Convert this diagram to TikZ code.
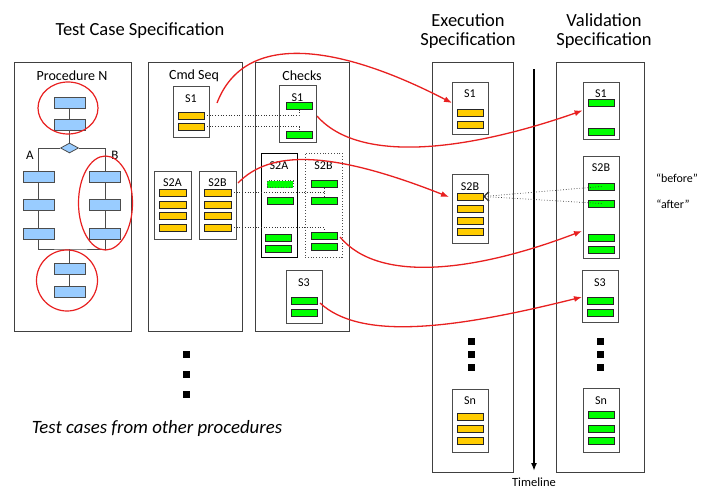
\documentclass[tikz,border=0pt]{standalone}
\usepackage{fontspec}
\setmainfont{Carlito}
\usetikzlibrary{arrows.meta,shapes.geometric}
\definecolor{barorange}{RGB}{255,204,0}
\definecolor{bargreen}{RGB}{0,255,0}
\definecolor{barblue}{RGB}{153,204,255}
\definecolor{linkred}{RGB}{232,32,32}

\begin{document}
\begin{tikzpicture}[x=1pt,y=-1pt,
  panel/.style={draw=black!75,line width=0.9pt,fill=white,inner sep=0pt},
  stepbox/.style={draw=black!70,line width=0.9pt,fill=white,inner sep=0pt,minimum width=36pt},
  obar/.style={draw=black!85,line width=0.7pt,fill=barorange,inner sep=0pt,minimum width=26pt,minimum height=7pt},
  gbar/.style={obar,fill=bargreen},
  bbar/.style={draw=black!70,line width=0.7pt,fill=barblue,inner sep=0pt,minimum width=31pt,minimum height=11pt},
  flow/.style={draw=black!70,line width=0.9pt},
  ring/.style={draw=linkred,line width=1.2pt},
  lbl/.style={inner sep=0pt,font=\fontsize{12}{14}\selectfont},
  plbl/.style={inner sep=0pt,font=\fontsize{14}{16}\selectfont},
  head/.style={inner sep=0pt,align=center,font=\fontsize{18.5}{19}\selectfont},
  dot/.style={fill=black,inner sep=0pt,minimum size=7pt},
  dotline/.style={draw=black!80,line width=0.7pt,dotted},
  link/.style={draw=linkred,line width=1.3pt,-{Latex[length=8pt,width=6pt]}},
]
\useasboundingbox (0,0) rectangle (702,490);

% ---------- headings ----------
\node[head] (hTC) at (140,31) {Test Case Specification};
\node[head] (hEX) at (468,31) {Execution\\Specification};
\node[head] (hVA) at (604,31) {Validation\\Specification};

% ---------- panels ----------
\node[panel,minimum width=117pt,minimum height=269pt] (proc) at (72.5,196.5) {};
\node[panel,minimum width=94pt,minimum height=269pt] (cmd) at (195,196.5) {};
\node[panel,minimum width=94pt,minimum height=269pt] (chk) at (302,196.5) {};
\node[panel,minimum width=81pt,minimum height=410pt] (exe) at (472.5,267) {};
\node[panel,minimum width=88pt,minimum height=410pt] (val) at (600,267) {};

\node[plbl] (tProc) at (72,76) {Procedure N};
\node[plbl] (tCmd) at (194,76) {Cmd Seq};
\node[plbl] (tChk) at (302,76) {Checks};

% ---------- procedure flow ----------
\node[bbar] (p1) at (69.5,102.5) {};
\node[bbar] (p2) at (69.5,124.5) {};
\node[draw=black!70,line width=0.8pt,fill=barblue,shape=diamond,inner sep=0pt,
      minimum width=18pt,minimum height=10pt] (dec) at (69.5,148) {};
\node[bbar] (l1) at (38.5,176.5) {};
\node[bbar] (l2) at (38.5,204.5) {};
\node[bbar] (l3) at (38.5,233.5) {};
\node[bbar] (r1) at (105,176.5) {};
\node[bbar] (r2) at (105,204.5) {};
\node[bbar] (r3) at (105,233.5) {};
\node[bbar] (q1) at (69.5,269) {};
\node[bbar] (q2) at (69.5,292) {};
\coordinate (join) at (69.5,249);

\draw[flow] (p1) -- (p2);
\draw[flow] (p2) -- (dec);
\draw[flow] (dec.west) -| (l1.north);
\draw[flow] (dec.east) -| (r1.north);
\draw[flow] (l1) -- (l2);
\draw[flow] (l2) -- (l3);
\draw[flow] (r1) -- (r2);
\draw[flow] (r2) -- (r3);
\draw[flow] (l3.south) |- (join) -| (r3.south);
\draw[flow] (join) -- (q1.north);
\draw[flow] (q1) -- (q2);

\node[inner sep=0pt,font=\fontsize{13}{15}\selectfont] (tA) at (30,155) {A};
\node[inner sep=0pt,font=\fontsize{13}{15}\selectfont] (tB) at (115,155) {B};

\draw[ring] (68,108) ellipse [x radius=30, y radius=26];
\draw[ring] (67,280.5) ellipse [x radius=30.5, y radius=30.5];
\draw[ring] (105.5,203) ellipse [x radius=27, y radius=47];

% ---------- command sequences ----------
\node[stepbox,minimum height=51pt] (cS1) at (191,111.5) {};
\node[lbl] (cS1t) at (191,99) {S1};
\node[obar] (cs1a) at (191,115.5) {};
\node[obar] (cs1b) at (191,126.5) {};

\node[stepbox,minimum width=37pt,minimum height=68pt] (cS2A) at (172.5,205) {};
\node[lbl] (cS2At) at (172.5,183) {S2A};
\node[obar,minimum width=27pt] (c2a1) at (172.5,192.5) {};
\node[obar,minimum width=27pt] (c2a2) at (172.5,204.5) {};
\node[obar,minimum width=27pt] (c2a3) at (172.5,215.5) {};
\node[obar,minimum width=27pt] (c2a4) at (172.5,227.5) {};

\node[stepbox,minimum width=37pt,minimum height=68pt] (cS2B) at (217.5,205) {};
\node[lbl] (cS2Bt) at (217.5,183) {S2B};
\node[obar,minimum width=27pt] (c2b1) at (217.5,192.5) {};
\node[obar,minimum width=27pt] (c2b2) at (217.5,204.5) {};
\node[obar,minimum width=27pt] (c2b3) at (217.5,215.5) {};
\node[obar,minimum width=27pt] (c2b4) at (217.5,227.5) {};

% ---------- checks ----------
\node[stepbox,minimum width=37pt,minimum height=57pt] (kS1) at (297.5,113.5) {};
\node[lbl] (kS1t) at (297.5,98) {S1};
\node[gbar] (k1a) at (299,106) {};
\node[gbar] (k1b) at (299,134.5) {};

\node[draw=black,line width=0.9pt,fill=white,inner sep=0pt,minimum width=36pt,minimum height=104pt] (kS2A) at (279,205) {};
\node[lbl] (kS2At) at (279,166) {S2A};
\node[gbar,draw=black!70,dotted] (k2a1) at (280,184) {};
\node[gbar] (k2a2) at (280,201) {};
\node[gbar] (k2a3) at (278.5,237.5) {};
\node[gbar] (k2a4) at (278.5,248.5) {};

\node[draw=black!70,line width=0.8pt,dotted,inner sep=0pt,minimum width=37pt,minimum height=104pt] (kS2B) at (323.5,205) {};
\node[lbl] (kS2Bt) at (323.5,166) {S2B};
\node[gbar] (k2b1) at (324,184) {};
\node[gbar] (k2b2) at (324,201) {};
\node[gbar] (k2b3) at (324,235.5) {};
\node[gbar] (k2b4) at (324,247) {};

\node[stepbox,minimum height=53pt] (kS3) at (304,296.5) {};
\node[lbl] (kS3t) at (304,283) {S3};
\node[gbar] (k3a) at (304,300.5) {};
\node[gbar] (k3b) at (304,312.5) {};

% more procedures
\node[dot] (m1) at (186,354) {};
\node[dot] (m2) at (186,374) {};
\node[dot] (m3) at (186,394) {};
\node[inner sep=0pt,font=\itshape\fontsize{18.8}{20}\selectfont] (tOther) at (157,428) {Test cases from other procedures};

% ---------- execution specification ----------
\node[stepbox,minimum height=52pt] (eS1) at (470,108) {};
\node[lbl] (eS1t) at (470,94) {S1};
\node[obar] (e1a) at (470,113) {};
\node[obar] (e1b) at (470,124.5) {};

\node[stepbox,minimum height=69pt] (eS2B) at (470,208.5) {};
\node[lbl] (eS2Bt) at (470,187) {S2B};
\node[obar] (e2b1) at (470,196.5) {};
\node[obar] (e2b2) at (470,209) {};
\node[obar] (e2b3) at (470,220.5) {};
\node[obar] (e2b4) at (470,232) {};

\node[dot] (ed1) at (471,341) {};
\node[dot] (ed2) at (471,354.5) {};
\node[dot] (ed3) at (471,367.5) {};

\node[stepbox,minimum height=63pt] (eSn) at (470,420.5) {};
\node[lbl] (eSnt) at (470,401) {Sn};
\node[obar] (ena) at (470,417) {};
\node[obar] (enb) at (470,428.5) {};
\node[obar] (enc) at (470,440.5) {};

% ---------- validation specification ----------
\node[stepbox,minimum height=57pt] (vS1) at (601,110.5) {};
\node[lbl] (vS1t) at (601,94) {S1};
\node[gbar] (v1a) at (601.5,103) {};
\node[gbar] (v1b) at (601.5,131.5) {};

\node[stepbox,minimum height=102pt] (vS2B) at (601,207) {};
\node[lbl] (vS2Bt) at (601,168) {S2B};
\node[gbar] (v2b1) at (601.5,186.5) {};
\node[gbar] (v2b2) at (601.5,203.5) {};
\node[gbar] (v2b3) at (601.5,237.5) {};
\node[gbar] (v2b4) at (601.5,249.5) {};

\node[stepbox,minimum height=52pt] (vS3) at (600,296) {};
\node[lbl] (vS3t) at (600,283) {S3};
\node[gbar] (v3a) at (600,300.5) {};
\node[gbar] (v3b) at (600,312.5) {};

\node[dot] (vd1) at (600,341) {};
\node[dot] (vd2) at (600,354.5) {};
\node[dot] (vd3) at (600,367.5) {};

\node[stepbox,minimum height=64pt] (vSn) at (601,420) {};
\node[lbl] (vSnt) at (601,401) {Sn};
\node[gbar] (vna) at (601.5,414.5) {};
\node[gbar] (vnb) at (601.5,428.5) {};
\node[gbar] (vnc) at (601.5,440.5) {};

\node[lbl] (tBefore) at (677,178) {“before”};
\node[lbl] (tAfter) at (673,204) {“after”};

% ---------- timeline ----------
\coordinate (tl0) at (534,69);
\coordinate (tl1) at (534,471);
\draw[line width=2pt,-{Latex[length=8pt,width=6pt]}] (tl0) -- (tl1);
\node[inner sep=0pt,font=\fontsize{12.5}{14}\selectfont] (tTime) at (534,482) {Timeline};

% ---------- command-to-check traces ----------
\draw[dotline] (cs1a.east) -| (k1a.south);
\draw[dotline] (cs1b.east) -| (k1b.north);
\draw[dotline] (k2b1.south) -- (k2b2.north);
\draw[dotline] (c2b1.east) -- (c2b1.east -| k2b1.south);
\draw[dotline] (c2b4.east) -| (k2b3.north);

% ---------- before / after probes ----------
\draw[dotline,-{Straight Barb[length=5pt,width=9pt]}] (v2b1.center) -- (e2b1.east);
\draw[dotline,-{Straight Barb[length=5pt,width=9pt]}] (v2b2.center) -- (e2b1.east);

% ---------- mapping links ----------
\coordinate (a1) at (217,103);
\coordinate (b1) at (452,103);
\draw[link] (a1) .. controls (245,30) and (340,45) .. (b1);
\coordinate (a2) at (317,116);
\draw[link] (a2) .. controls (360,165) and (470,150) .. (vS1.west);
\coordinate (a3) at (238,183);
\coordinate (b3) at (449,197);
\draw[link] (a3) .. controls (270,150) and (330,150) .. (b3);
\coordinate (a4) at (340,237);
\coordinate (b4) at (582,231);
\draw[link] (a4) .. controls (380,285) and (480,270) .. (b4);
\coordinate (a5) at (320,303);
\coordinate (b5) at (582,297);
\draw[link] (a5) .. controls (360,340) and (450,330) .. (b5);
\end{tikzpicture}
\end{document}
